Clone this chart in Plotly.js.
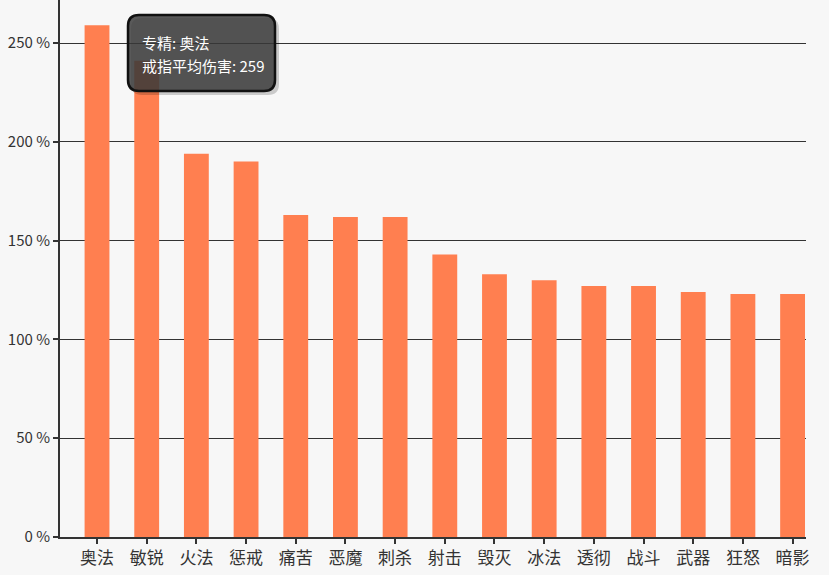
<!DOCTYPE html>
<html>
<head>
<meta charset="utf-8">
<script src="https://cdn.plot.ly/plotly-3.0.1.min.js"></script>
<style>html,body{margin:0;padding:0;background:#f7f7f7;}#chart{width:829px;height:575px;}</style>
</head>
<body>
<div id="chart"></div>
<script>
const categories = ["奥法","敏锐","火法","惩戒","痛苦","恶魔","刺杀","射击","毁灭","冰法","透彻","战斗","武器","狂怒","暗影"];
const values = [259, 241, 194, 190, 163, 162, 162, 143, 133, 130, 127, 127, 124, 123, 123];
const yTicks = [0, 50, 100, 150, 200, 250];
const seriesName = "戒指平均伤害";
const catName = "专精";

const font = "'Noto Sans CJK SC', 'Microsoft YaHei', sans-serif";

// pixel -> paper helpers (plot area: left 60, width 746, top 0, height 537)
const PX = px => (px - 60) / 746;
const PY = py => 1 - py / 537;
function roundRect(x0, y0, x1, y1, r) {
  return "M" + PX(x0 + r) + "," + PY(y0) +
    " L" + PX(x1 - r) + "," + PY(y0) +
    " Q" + PX(x1) + "," + PY(y0) + " " + PX(x1) + "," + PY(y0 + r) +
    " L" + PX(x1) + "," + PY(y1 - r) +
    " Q" + PX(x1) + "," + PY(y1) + " " + PX(x1 - r) + "," + PY(y1) +
    " L" + PX(x0 + r) + "," + PY(y1) +
    " Q" + PX(x0) + "," + PY(y1) + " " + PX(x0) + "," + PY(y1 - r) +
    " L" + PX(x0) + "," + PY(y0 + r) +
    " Q" + PX(x0) + "," + PY(y0) + " " + PX(x0 + r) + "," + PY(y0) + " Z";
}

Plotly.newPlot("chart", [{
  type: "bar",
  x: categories,
  y: values,
  width: 0.5,
  marker: {color: "#ff7f50", line: {width: 0}},
  hoverinfo: "none"
}], {
  width: 829, height: 575,
  margin: {l: 60, r: 23, t: 0, b: 38, pad: 0},
  paper_bgcolor: "#f7f7f7",
  plot_bgcolor: "#f7f7f7",
  showlegend: false,
  font: {family: font, color: "#333"},
  xaxis: {
    type: "category",
    range: [-0.745, 14.27],
    showgrid: false,
    showline: true, linecolor: "#333", linewidth: 2,
    ticks: "outside", ticklen: 5, tickwidth: 2, tickcolor: "#333",
    tickfont: {size: 17, family: font, color: "#333"},
    fixedrange: true
  },
  yaxis: {
    range: [0, 271.8],
    tickvals: yTicks,
    ticktext: yTicks.map(v => v + " %"),
    showgrid: true, gridcolor: "#333", gridwidth: 1,
    zeroline: false,
    showline: true, linecolor: "#333", linewidth: 2,
    ticks: "outside", ticklen: 5, tickwidth: 2, tickcolor: "#333",
    tickfont: {size: 15, family: font, color: "#333"},
    fixedrange: true
  },
  shapes: [
    {type: "path", xref: "paper", yref: "paper", layer: "above",
     path: roundRect(131, 18, 279, 95, 11),
     fillcolor: "rgba(0,0,0,0.18)", line: {width: 0}},
    {type: "path", xref: "paper", yref: "paper", layer: "above",
     path: roundRect(128, 15, 275, 91, 11),
     fillcolor: "rgba(58,58,58,0.84)", line: {color: "#111", width: 2.5}}
  ],
  annotations: [
    {xref: "paper", yref: "paper", x: PX(140), y: PY(42),
     xanchor: "left", yanchor: "middle", showarrow: false,
     text: catName + ": " + categories[0],
     font: {size: 15, color: "#ffffff", family: font}},
    {xref: "paper", yref: "paper", x: PX(140), y: PY(65),
     xanchor: "left", yanchor: "middle", showarrow: false,
     text: seriesName + ": " + values[0],
     font: {size: 15, color: "#ffffff", family: font}}
  ]
}, {displayModeBar: false, staticPlot: true});
</script>
</body>
</html>
